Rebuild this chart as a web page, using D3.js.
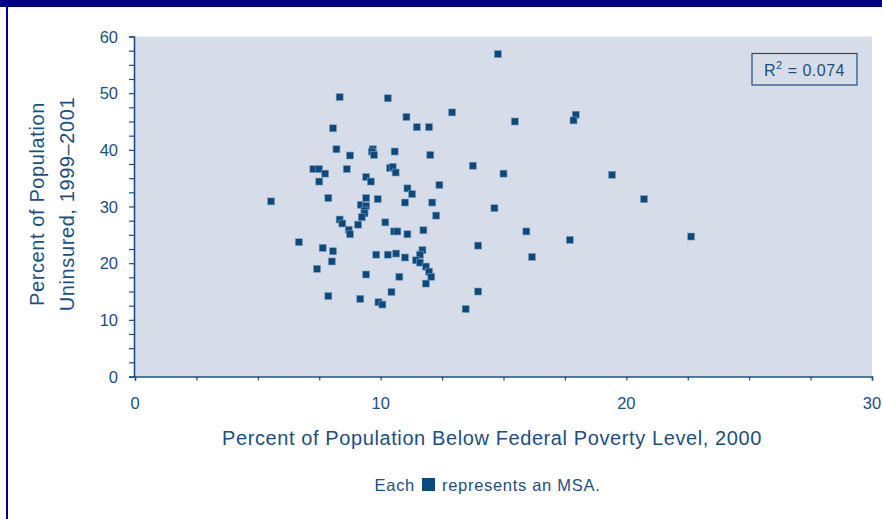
<!DOCTYPE html>
<html>
<head>
<meta charset="utf-8">
<script src="https://cdn.jsdelivr.net/npm/d3@7"></script>
<style>
  body { margin: 0; background: #fff; }
  svg { display: block; font-family: "Liberation Sans", Arial, sans-serif; }
</style>
</head>
<body>
<script>
'use strict';

// poverty rate 2000 (x) and uninsured rate 1999-2001 (y), one pair per MSA
const poverty = [
  8.33, 10.29, 11.05, 12.91, 8.06, 11.47, 11.97, 8.20, 8.75, 9.68,
  9.64, 9.73, 10.57, 12.02, 13.75, 7.26, 7.49, 7.74, 8.62, 10.38,
  10.49, 10.61, 7.50, 9.41, 9.60, 11.09, 11.28, 12.39, 5.54, 7.87,
  9.41, 9.88, 10.99, 12.10, 9.19, 9.41, 9.34, 9.34, 9.23, 12.26,
  8.33, 8.44, 9.08, 10.19, 8.70, 8.75, 10.55, 10.68, 11.09, 11.74,
  6.67, 7.64, 8.06, 8.01, 7.41, 9.82, 10.29, 10.63, 10.99, 11.70,
  11.60, 11.44, 11.60, 11.84, 11.97, 12.06, 11.84, 9.41, 10.76, 10.44,
  7.87, 9.17, 9.91, 10.07, 13.46, 14.77, 15.46, 17.94, 17.85, 15.00,
  14.63, 15.93, 17.70, 13.97, 16.16, 13.97, 19.42, 20.72, 22.64
];
const uninsured = [
  49.3, 49.1, 45.8, 46.6, 43.8, 44.0, 44.0, 40.1, 39.0, 40.1,
  39.7, 39.1, 39.7, 39.1, 37.2, 36.6, 36.6, 35.8, 36.6, 36.8,
  37.0, 36.0, 34.4, 35.2, 34.4, 33.2, 32.2, 33.8, 30.9, 31.5,
  31.5, 31.3, 30.7, 30.7, 30.3, 30.1, 29.3, 28.8, 28.1, 28.4,
  27.7, 27.0, 26.8, 27.2, 25.9, 25.1, 25.6, 25.6, 25.1, 25.8,
  23.7, 22.7, 22.1, 20.3, 19.0, 21.5, 21.5, 21.7, 21.0, 22.3,
  21.5, 20.5, 20.1, 19.4, 18.5, 17.6, 16.4, 18.0, 17.6, 14.9,
  14.2, 13.7, 13.1, 12.7, 11.9, 56.9, 45.0, 46.2, 45.2, 35.8,
  29.7, 25.6, 24.1, 23.1, 21.1, 15.0, 35.6, 31.3, 24.7
];
const xTicks = [0, 10, 20, 30];
const yTicks = [0, 10, 20, 30, 40, 50, 60];
const rSquared = "0.074";

const navy = "#0a4a7c";
const ink = "#1b4f82";

const svg = d3.select("body").append("svg")
  .attr("width", 882)
  .attr("height", 519);

// page frame: top bar and left rule
svg.append("rect").attr("x", 0).attr("y", 0).attr("width", 882).attr("height", 7).attr("fill", "#00008a");
svg.append("rect").attr("x", 6).attr("y", 0).attr("width", 2).attr("height", 519).attr("fill", "#00008a");

const x = d3.scaleLinear().domain([0, 30]).range([135, 872]);
const y = d3.scaleLinear().domain([0, 60]).range([376.5, 36.5]);

// plot background
svg.append("rect")
  .attr("x", x(0)).attr("y", y(60))
  .attr("width", x(30) - x(0)).attr("height", y(0) - y(60))
  .attr("fill", "#d6dde9");

// minor ticks every 2.5
const yAxis = svg.append("g")
  .attr("transform", `translate(${x(0) - 1},0)`)
  .call(d3.axisLeft(y).tickValues(d3.range(0, 60.1, 2.5)).tickSize(5).tickFormat(""));
const xAxis = svg.append("g")
  .attr("transform", `translate(0,${y(0)})`)
  .call(d3.axisBottom(x).tickValues(d3.range(0, 30.1, 2.5)).tickSize(4).tickFormat(""));
[xAxis, yAxis].forEach(g => {
  g.select(".domain").attr("stroke", ink).attr("stroke-width", 1.6);
  g.selectAll(".tick line").attr("stroke", ink).attr("stroke-width", 1.2);
});

// tick labels
svg.append("g").selectAll("text")
  .data(yTicks).join("text")
    .attr("x", 118).attr("y", d => y(d) + 6)
    .attr("text-anchor", "end")
    .attr("font-size", 16.5).attr("fill", ink)
    .text(d => d);
svg.append("g").selectAll("text")
  .data(xTicks).join("text")
    .attr("x", d => x(d)).attr("y", 409)
    .attr("text-anchor", "middle")
    .attr("font-size", 16.5).attr("fill", ink)
    .text(d => d);

// axis titles
svg.append("text")
  .attr("x", 492).attr("y", 445)
  .attr("text-anchor", "middle")
  .attr("font-size", 20).attr("letter-spacing", 0.6).attr("fill", ink)
  .text("Percent of Population Below Federal Poverty Level, 2000");

const yTitle = svg.append("text")
  .attr("transform", "translate(0,204) rotate(-90)")
  .attr("text-anchor", "middle")
  .attr("font-size", 20).attr("letter-spacing", 0.6).attr("fill", ink);
yTitle.append("tspan").attr("x", 0).attr("y", 44).text("Percent of Population");
yTitle.append("tspan").attr("x", 0).attr("y", 74).text("Uninsured, 1999\u20132001");

// points
const size = 7;
svg.append("g").selectAll("rect")
  .data(d3.zip(poverty, uninsured)).join("rect")
    .attr("x", d => x(d[0]) - size / 2)
    .attr("y", d => y(d[1]) - size / 2)
    .attr("width", size).attr("height", size)
    .attr("fill", navy)
    .attr("stroke", "#7f9cbd").attr("stroke-width", 0.6);

// R² box
svg.append("rect")
  .attr("x", 752).attr("y", 53.5).attr("width", 105).attr("height", 31.5)
  .attr("fill", "none").attr("stroke", ink).attr("stroke-width", 1.2);
const r2 = svg.append("text")
  .attr("x", 804.5).attr("y", 75.5)
  .attr("text-anchor", "middle")
  .attr("font-size", 16).attr("letter-spacing", 0.5).attr("fill", ink);
r2.append("tspan").text("R");
r2.append("tspan").attr("dy", -7).attr("font-size", 11).text("2");
r2.append("tspan").attr("dy", 7).text(" = " + rSquared);

// note
const note = svg.append("g");
note.append("text")
  .attr("x", 415).attr("y", 490.5)
  .attr("text-anchor", "end")
  .attr("font-size", 16.5).attr("letter-spacing", 0.7).attr("fill", ink)
  .text("Each");
note.append("rect")
  .attr("x", 422).attr("y", 478).attr("width", 13).attr("height", 13)
  .attr("fill", navy);
note.append("text")
  .attr("x", 442).attr("y", 490.5)
  .attr("font-size", 16.5).attr("letter-spacing", 0.7).attr("fill", ink)
  .text("represents an MSA.");
</script>
</body>
</html>
